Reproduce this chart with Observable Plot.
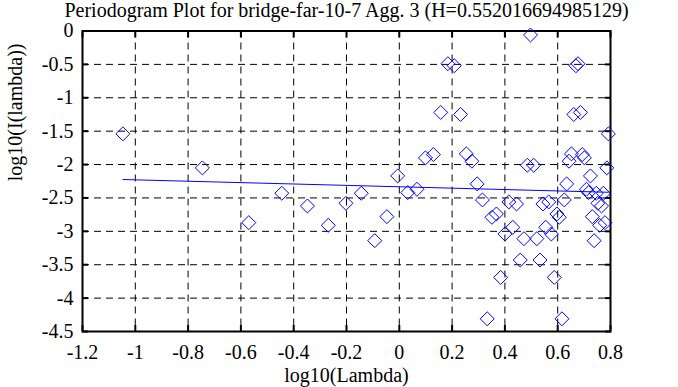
<!DOCTYPE html>
<html><head><meta charset="utf-8">
<script src="https://cdn.jsdelivr.net/npm/d3@7"></script>
<script src="https://cdn.jsdelivr.net/npm/@observablehq/plot@0.6"></script>
<style>body{margin:0;background:#fff;} svg{display:block}</style>
</head><body><div id="chart"></div>
<script>
const titleText = "Periodogram Plot for bridge-far-10-7 Agg. 3 (H=0.552016694985129)";
const xLabel = "log10(Lambda)";
const yLabel = "log10(I(lambda))";

const lambdaLog = [-1.047,-0.746,-0.570,-0.445,-0.348,-0.269,-0.202,-0.144,-0.093,-0.047,-0.006,0.032,0.067,0.099,0.129,0.157,0.184,0.208,0.232,0.254,0.275,0.295,0.315,0.333,0.351,0.368,0.384,0.400,0.415,0.430,0.444,0.458,0.472,0.485,0.497,0.509,0.521,0.533,0.544,0.555,0.566,0.576,0.587,0.597,0.606,0.616,0.625,0.634,0.643,0.652,0.661,0.669,0.677,0.686,0.693,0.701,0.709,0.717,0.724,0.731,0.738,0.746,0.752,0.759,0.766,0.773,0.779,0.786,0.792];
const periodLog = [-1.54,-2.05,-2.87,-2.43,-2.62,-2.91,-2.58,-2.43,-3.14,-2.78,-2.17,-2.42,-2.37,-1.90,-1.85,-1.22,-0.49,-0.52,-1.25,-1.84,-1.95,-2.29,-2.53,-4.31,-2.79,-2.74,-3.69,-3.04,-2.56,-2.94,-2.59,-3.43,-3.11,-2.01,-0.06,-2.01,-3.11,-3.43,-2.59,-2.94,-2.56,-3.04,-3.69,-2.74,-2.79,-4.31,-2.53,-2.29,-1.95,-1.84,-1.25,-0.52,-0.49,-1.22,-1.85,-1.90,-2.37,-2.42,-2.17,-2.78,-3.14,-2.43,-2.58,-2.91,-2.62,-2.43,-2.87,-2.05,-1.54];

const fitX = [-1.047, 0.792];
const fitY = [-2.224, -2.415];

const xTicks = [-1.2,-1,-0.8,-0.6,-0.4,-0.2,0,0.2,0.4,0.6,0.8];
const xTickLabels = ["-1.2","-1","-0.8","-0.6","-0.4","-0.2","0","0.2","0.4","0.6","0.8"];
const yTicks = [0,-0.5,-1,-1.5,-2,-2.5,-3,-3.5,-4,-4.5];
const yTickLabels = ["0","-0.5","-1","-1.5","-2","-2.5","-3","-3.5","-4","-4.5"];

const points = lambdaLog.map((x, i) => ({x, y: periodLog[i]}));
const fit = fitX.map((x, i) => ({x, y: fitY[i]}));
const innerX = xTicks.slice(1, -1);
const innerY = yTicks.slice(1, -1);
const blank = () => "";

const font = "'Liberation Serif', 'Times New Roman', serif";

const chart = Plot.plot({
  width: 678, height: 387,
  marginLeft: 82, marginRight: 68, marginTop: 30.5, marginBottom: 56,
  style: {fontFamily: font, fontSize: "20px", background: "#fff", color: "#000", overflow: "visible"},
  x: {domain: [-1.2, 0.8], axis: null},
  y: {domain: [-4.5, 0], axis: null},
  marks: [
    Plot.gridX(innerX, {stroke: "#000", strokeOpacity: 1, strokeWidth: 1, strokeDasharray: "7,5"}),
    Plot.gridY(innerY, {stroke: "#000", strokeOpacity: 1, strokeWidth: 1, strokeDasharray: "7,5"}),
    Plot.axisX(xTicks, {anchor: "bottom", tickSize: 0, tickPadding: 13, tickFormat: d => xTickLabels[xTicks.indexOf(d)], label: null, fontSize: 20}),
    Plot.axisY(yTicks, {anchor: "left", tickSize: 0, tickPadding: 9, tickFormat: d => yTickLabels[yTicks.indexOf(d)], label: null, fontSize: 20}),
    Plot.axisX(xTicks, {anchor: "bottom", tickSize: 6, dy: -6, strokeWidth: 2, tickFormat: blank, label: null}),
    Plot.axisX(xTicks, {anchor: "top", tickSize: 6, dy: 6, strokeWidth: 2, tickFormat: blank, label: null}),
    Plot.axisY(yTicks, {anchor: "left", tickSize: 6, dx: 6, strokeWidth: 2, tickFormat: blank, label: null}),
    Plot.axisY(yTicks, {anchor: "right", tickSize: 6, dx: -6, strokeWidth: 2, tickFormat: blank, label: null}),
    Plot.frame({stroke: "#000", strokeWidth: 2}),
    Plot.line(fit, {x: "x", y: "y", stroke: "#0000ff", strokeWidth: 1}),
    Plot.dot(points, {x: "x", y: "y", symbol: "diamond2", r: 6.3, stroke: "#0000ff", fill: "none", strokeWidth: 1}),
    Plot.text([titleText], {frameAnchor: "top", dy: -20.5, text: d => d, fontSize: 20, lineAnchor: "middle", fill: "#000"}),
    Plot.text([xLabel], {frameAnchor: "bottom", dy: 44, text: d => d, fontSize: 20, lineAnchor: "middle", fill: "#000"}),
    Plot.text([yLabel], {frameAnchor: "left", dx: -67, rotate: -90, text: d => d, fontSize: 20, lineAnchor: "middle", fill: "#000"})
  ]
});
document.getElementById("chart").appendChild(chart);
</script>
</body></html>
